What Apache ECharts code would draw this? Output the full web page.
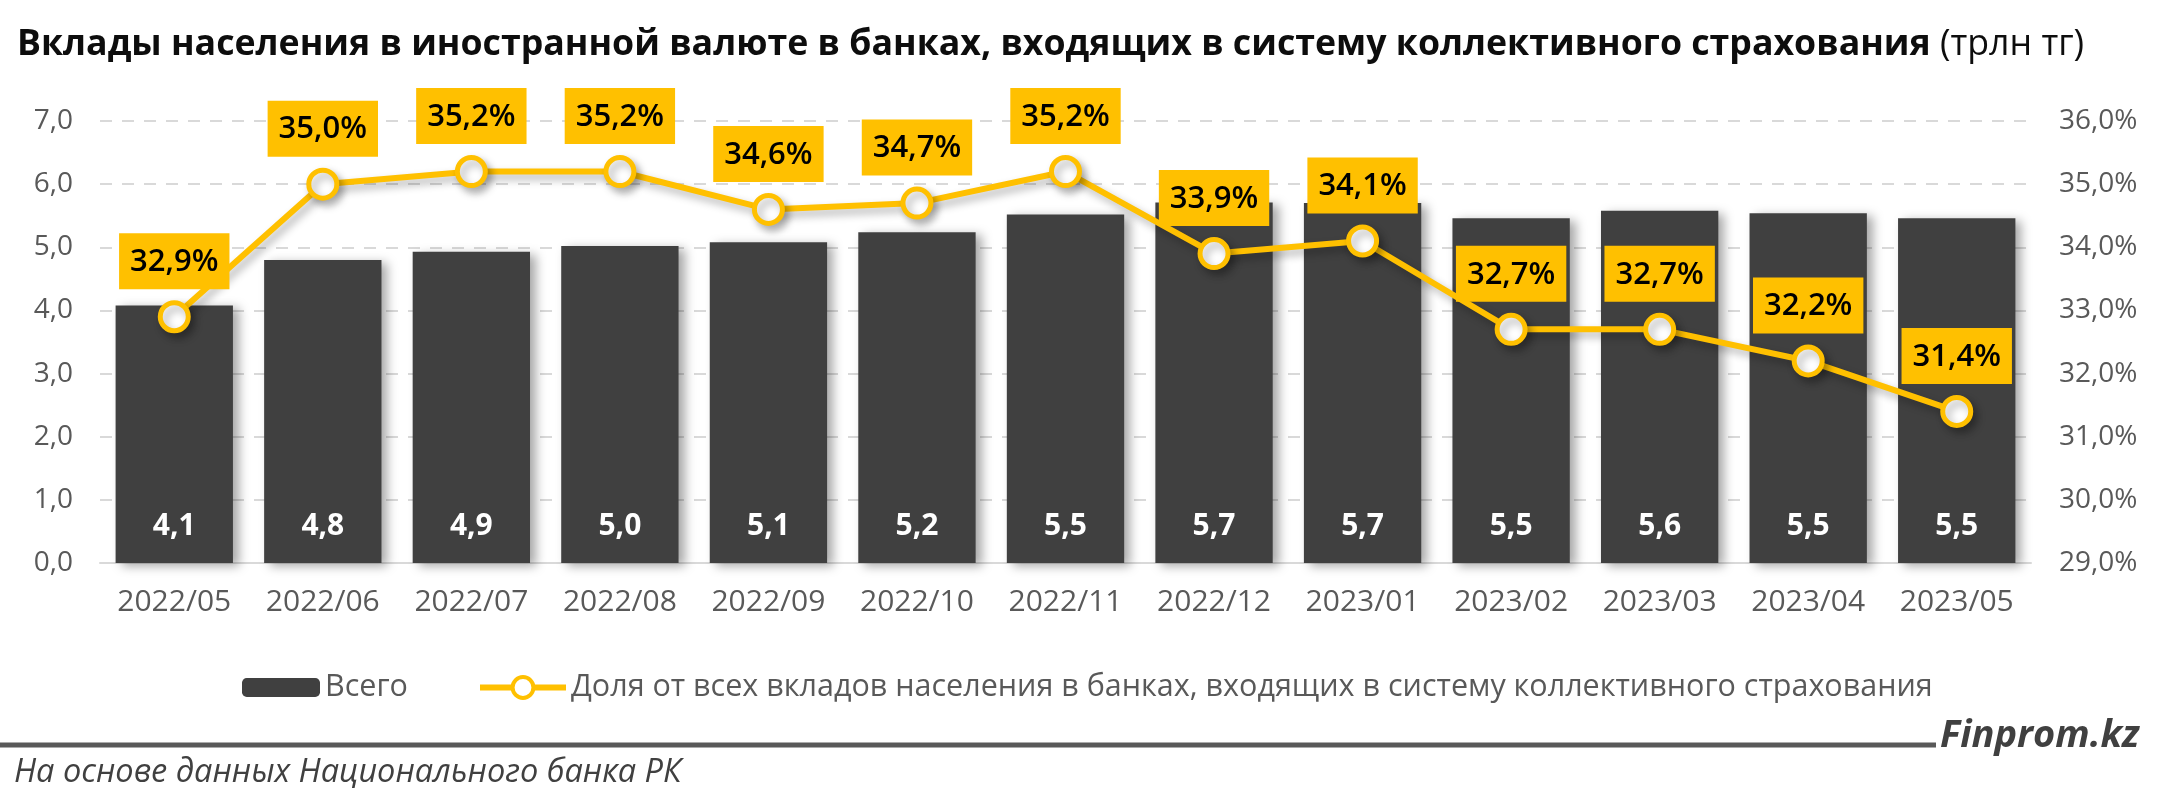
<!DOCTYPE html>
<html><head><meta charset="utf-8">
<script src="https://cdn.jsdelivr.net/npm/echarts@6/dist/echarts.min.js"></script>
<style>html,body{margin:0;padding:0;background:#fff}#c{width:2160px;height:807px}</style>
</head><body><div id="c"></div>
<script>
const categories = ['2022/05','2022/06','2022/07','2022/08','2022/09','2022/10','2022/11','2022/12','2023/01','2023/02','2023/03','2023/04','2023/05'];
const totalValues = [4.08, 4.8, 4.93, 5.02, 5.08, 5.24, 5.52, 5.71, 5.7, 5.46, 5.58, 5.54, 5.46];
const shareValues = [32.9, 35.0, 35.2, 35.2, 34.6, 34.7, 35.2, 33.9, 34.1, 32.7, 32.7, 32.2, 31.4];
const leftTicks = {min: 0, max: 7, interval: 1};
const rightTicks = {min: 29, max: 36, interval: 1};
const seriesNames = ['Всего', 'Доля от всех вкладов населения в банках, входящих в систему коллективного страхования'];
const titleBold = 'Вклады населения в иностранной валюте в банках, входящих в систему коллективного страхования';
const titleUnit = ' (трлн тг)';
const sourceText = 'На основе данных Национального банка РК';
const brandText = 'Finprom.kz';

const FONT = '"Open Sans", "Noto Sans", sans-serif';
const fmt1 = v => v.toFixed(1).replace('.', ',');
const chart = echarts.init(document.getElementById('c'));
chart.setOption({
  animation: false,
  textStyle: {fontFamily: FONT},
  title: {
    left: 12, top: 22,
    text: '{b|' + titleBold + '}{n|' + titleUnit + '}',
    textStyle: {rich: {
      b: {fontFamily: FONT, fontWeight: 'bold', fontSize: 35.7, color: '#0d0d0d'},
      n: {fontFamily: FONT, fontWeight: 'normal', fontSize: 35.7, color: '#0d0d0d'}
    }}
  },
  grid: {left: 100, right: 129, top: 121, bottom: 244},
  legend: [{
    data: [seriesNames[0]], left: 237, top: 667, itemWidth: 78, itemHeight: 19, itemGap: 6,
    textStyle: {fontFamily: FONT, fontSize: 30.5, color: '#595959'}
  }, {
    data: [seriesNames[1]], left: 472, top: 667, itemWidth: 86, itemHeight: 26,
    lineStyle: {width: 6, color: '#FFC000'},
    itemStyle: {color: '#ffffff', borderColor: '#FFC000', borderWidth: 4},
    textStyle: {fontFamily: FONT, fontSize: 30.5, color: '#595959'}
  }],
  xAxis: {
    type: 'category', data: categories,
    axisTick: {show: false},
    axisLine: {lineStyle: {color: '#d9d9d9', width: 2}},
    axisLabel: {color: '#595959', fontSize: 30, margin: 24, fontFamily: FONT}
  },
  yAxis: [{
    type: 'value', min: leftTicks.min, max: leftTicks.max, interval: leftTicks.interval,
    axisLine: {show: false}, axisTick: {show: false},
    axisLabel: {color: '#595959', fontSize: 28, margin: 27, formatter: v => fmt1(v)},
    splitLine: {lineStyle: {color: '#d9d9d9', type: [12, 10], width: 2}}
  }, {
    type: 'value', min: rightTicks.min, max: rightTicks.max, interval: rightTicks.interval,
    axisLine: {show: false}, axisTick: {show: false},
    axisLabel: {color: '#595959', fontSize: 28, margin: 28, formatter: v => fmt1(v) + '%'},
    splitLine: {show: false}
  }],
  series: [{
    name: seriesNames[0], type: 'bar', data: totalValues, barWidth: '79%',
    itemStyle: {color: '#404040', shadowColor: 'rgba(0,0,0,0.35)', shadowBlur: 10, shadowOffsetX: 6, shadowOffsetY: 3},
    label: {show: true, position: 'insideBottom', distance: 22, color: '#ffffff', fontSize: 30, fontWeight: 'bold', fontFamily: FONT,
      formatter: p => fmt1(p.value)}
  }, {
    name: seriesNames[1], type: 'line', yAxisIndex: 1, data: shareValues,
    symbol: 'circle', symbolSize: 28,
    lineStyle: {color: '#FFC000', width: 6, shadowColor: 'rgba(0,0,0,0.3)', shadowBlur: 8, shadowOffsetX: 4, shadowOffsetY: 5},
    itemStyle: {color: '#ffffff', borderColor: '#FFC000', borderWidth: 5, shadowColor: 'rgba(0,0,0,0.3)', shadowBlur: 8, shadowOffsetX: 4, shadowOffsetY: 5},
    label: {show: true, position: 'top', distance: 11, backgroundColor: '#FFC000', color: '#000000',
      fontSize: 31, fontWeight: 600, fontFamily: FONT, padding: [11, 11, 9, 11], lineHeight: 36,
      formatter: p => fmt1(p.value) + '%'},
    z: 5
  }],
  graphic: [{
    type: 'line', shape: {x1: 0, y1: 745, x2: 1936, y2: 745},
    style: {stroke: '#595959', lineWidth: 5}
  }, {
    type: 'text', left: 1940, top: 717,
    style: {text: brandText, font: 'italic bold 38px ' + FONT, fill: '#404040'}
  }, {
    type: 'text', left: 14, top: 756,
    style: {text: sourceText, font: 'italic 32.5px ' + FONT, fill: '#404040'}
  }]
});
</script></body></html>
